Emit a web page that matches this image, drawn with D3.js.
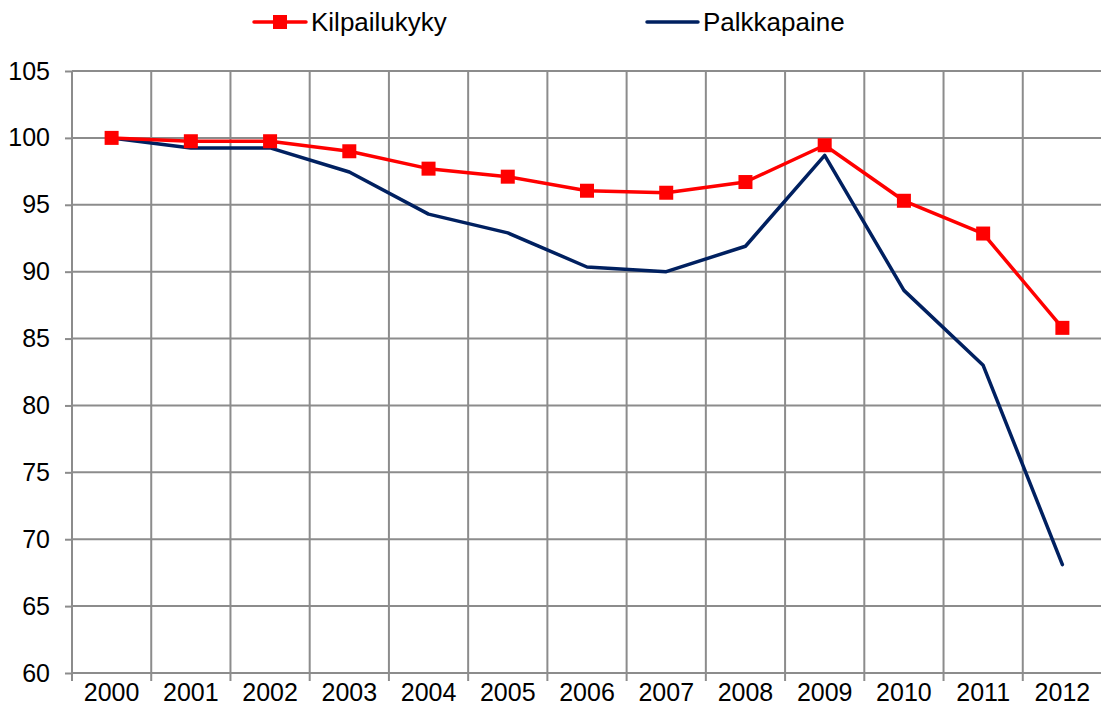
<!DOCTYPE html>
<html>
<head>
<meta charset="utf-8">
<script src="https://cdn.jsdelivr.net/npm/d3@7"></script>
<style>
  body { margin: 0; background: #fff; }
  svg { display: block; font-family: "Liberation Sans", Arial, sans-serif; }
  .grid line { stroke: #8c8c8c; stroke-width: 2; }
  .axis path, .axis line { stroke: #8c8c8c; stroke-width: 2; }
  .axis text { font-size: 25px; fill: #000; }
</style>
</head>
<body>
<div class="chart"></div>
<script>
var w = 1101;
var h = 715;
var paddingTop = 71;
var paddingBottom = 42;
var paddingLeft = 72;
var paddingRight = -1;

var years = ["2000", "2001", "2002", "2003", "2004", "2005", "2006",
             "2007", "2008", "2009", "2010", "2011", "2012"];
var kilpailukyky = [100, 99.75, 99.75, 99.0, 97.7, 97.1, 96.05,
                    95.9, 96.7, 99.45, 95.3, 92.85, 85.8];
var palkkapaine = [100, 99.25, 99.25, 97.45, 94.3, 92.9, 90.35,
                   90.0, 91.9, 98.7, 88.6, 83.0, 68.1];
var yTicks = [60, 65, 70, 75, 80, 85, 90, 95, 100, 105];
var seriesNames = ["Kilpailukyky", "Palkkapaine"];

var red = "#ff0000";
var navy = "#002060";

var svg = d3.select(".chart").append("svg")
            .attr("width", w)
            .attr("height", h);

var xBand = d3.scaleBand()
              .domain(years)
              .range([paddingLeft, w - paddingRight]);

var yScale = d3.scaleLinear()
               .domain([60, 105])
               .range([h - paddingBottom, paddingTop]);

var xCenter = function(d) { return xBand(d) + xBand.bandwidth() / 2; };

// Gridlines
var grid = svg.append("g").attr("class", "grid");
grid.selectAll("hLine")
    .data(yTicks)
    .enter()
    .append("line")
    .attr("x1", paddingLeft)
    .attr("x2", w)
    .attr("y1", function(d) { return yScale(d); })
    .attr("y2", function(d) { return yScale(d); });

grid.selectAll("vLine")
    .data(years)
    .enter()
    .append("line")
    .attr("x1", function(d) { return xBand(d); })
    .attr("x2", function(d) { return xBand(d); })
    .attr("y1", paddingTop)
    .attr("y2", h - paddingBottom);

// Axes
var yAxis = d3.axisLeft(yScale)
              .tickValues(yTicks)
              .tickSize(7)
              .tickPadding(15)
              .tickSizeOuter(0);

svg.append("g")
   .attr("class", "axis")
   .attr("transform", "translate(" + paddingLeft + ",0)")
   .call(yAxis)
   .call(function(g) { g.select(".domain").remove(); });

var xAxis = d3.axisBottom(xBand)
              .tickSize(0)
              .tickPadding(10)
              .tickSizeOuter(0);

var xg = svg.append("g")
   .attr("class", "axis")
   .attr("transform", "translate(0," + (h - paddingBottom) + ")")
   .call(xAxis);
xg.select(".domain").remove();

// small tick marks at category boundaries below the axis
xg.selectAll("boundTick")
  .data(years)
  .enter()
  .append("line")
  .attr("x1", function(d) { return xBand(d); })
  .attr("x2", function(d) { return xBand(d); })
  .attr("y1", 0)
  .attr("y2", 8);

// Lines
var line = d3.line()
             .x(function(d, i) { return xCenter(years[i]); })
             .y(function(d) { return yScale(d); });

svg.append("path")
   .datum(palkkapaine)
   .attr("fill", "none")
   .attr("stroke", navy)
   .attr("stroke-width", 3.5)
   .attr("stroke-linejoin", "round")
   .attr("stroke-linecap", "round")
   .attr("d", line);

svg.append("path")
   .datum(kilpailukyky)
   .attr("fill", "none")
   .attr("stroke", red)
   .attr("stroke-width", 3.5)
   .attr("stroke-linejoin", "round")
   .attr("d", line);

var ms = 14;
svg.selectAll("marker")
   .data(kilpailukyky)
   .enter()
   .append("rect")
   .attr("x", function(d, i) { return xCenter(years[i]) - ms / 2; })
   .attr("y", function(d) { return yScale(d) - ms / 2; })
   .attr("width", ms)
   .attr("height", ms)
   .attr("fill", red);

// Legend
var legendY = 22;
var leg1 = svg.append("g").attr("transform", "translate(254," + legendY + ")");
leg1.append("line")
    .attr("x1", 0).attr("x2", 52)
    .attr("stroke", red).attr("stroke-width", 3.5).attr("stroke-linecap", "round");
leg1.append("rect")
    .attr("x", 26 - ms / 2).attr("y", -ms / 2)
    .attr("width", ms).attr("height", ms)
    .attr("fill", red);
leg1.append("text")
    .attr("x", 57).attr("y", 9)
    .style("font-size", "26px")
    .text(seriesNames[0]);

var leg2 = svg.append("g").attr("transform", "translate(647," + legendY + ")");
leg2.append("line")
    .attr("x1", 0).attr("x2", 51)
    .attr("stroke", navy).attr("stroke-width", 3.5).attr("stroke-linecap", "round");
leg2.append("text")
    .attr("x", 56).attr("y", 9)
    .style("font-size", "26px")
    .text(seriesNames[1]);
</script>
</body>
</html>
